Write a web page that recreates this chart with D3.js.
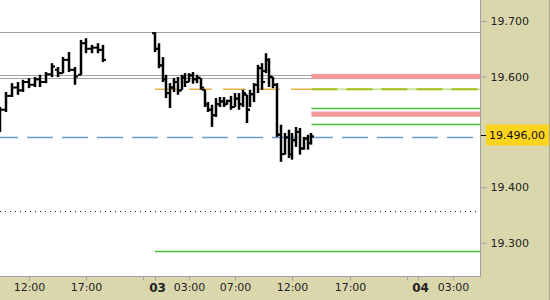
<!DOCTYPE html>
<html>
<head>
<meta charset="utf-8">
<script src="https://cdn.jsdelivr.net/npm/d3@7"></script>
<style>
  body { margin: 0; background: #dad7ad; }
  svg { display: block; font-family: "DejaVu Sans", Verdana, sans-serif; }
</style>
</head>
<body>
<svg id="chart" width="550" height="300"></svg>
<script>
"use strict";

// bars of day 02 (30 min) : time, open, high, low, close
var barsDay2 = [
  ["02 09:30", 19505, 19545, 19500, 19540],
  ["02 10:00", 19540, 19572, 19536, 19565],
  ["02 10:30", 19565, 19588, 19563, 19580],
  ["02 11:00", 19580, 19590, 19567, 19575],
  ["02 11:30", 19575, 19594, 19572, 19590],
  ["02 12:00", 19590, 19597, 19579, 19585],
  ["02 12:30", 19585, 19599, 19581, 19595],
  ["02 13:00", 19595, 19603, 19581, 19590],
  ["02 13:30", 19590, 19608, 19588, 19604],
  ["02 14:00", 19604, 19624, 19599, 19618],
  ["02 14:30", 19612, 19617, 19599, 19606],
  ["02 15:00", 19606, 19635, 19606, 19630],
  ["02 15:30", 19630, 19644, 19608, 19612],
  ["02 16:00", 19612, 19617, 19585, 19600],
  ["02 16:30", 19603, 19666, 19603, 19660],
  ["02 17:00", 19660, 19669, 19642, 19650],
  ["02 17:30", 19650, 19657, 19642, 19652],
  ["02 18:00", 19652, 19660, 19642, 19648],
  ["02 18:30", 19648, 19657, 19626, 19630]
];

// bars of day 03 (20 min)
var barsDay3 = [
  ["03 00:00", 19678, 19680, 19644, 19650],
  ["03 00:20", 19650, 19660, 19615, 19620],
  ["03 00:40", 19620, 19635, 19590, 19595],
  ["03 01:00", 19595, 19603, 19561, 19570],
  ["03 01:20", 19570, 19588, 19543, 19580],
  ["03 01:40", 19580, 19597, 19572, 19590],
  ["03 02:00", 19590, 19599, 19567, 19575],
  ["03 02:20", 19575, 19603, 19576, 19598],
  ["03 02:40", 19598, 19606, 19581, 19590],
  ["03 03:00", 19590, 19606, 19590, 19602],
  ["03 03:20", 19602, 19608, 19587, 19595],
  ["03 03:40", 19595, 19603, 19588, 19598],
  ["03 04:00", 19597, 19597, 19576, 19580],
  ["03 04:20", 19576, 19576, 19545, 19550],
  ["03 04:40", 19550, 19554, 19536, 19540],
  ["03 05:00", 19540, 19549, 19509, 19530],
  ["03 05:20", 19530, 19561, 19527, 19550],
  ["03 05:40", 19550, 19563, 19545, 19555],
  ["03 06:00", 19555, 19563, 19545, 19550],
  ["03 06:20", 19550, 19558, 19549, 19556],
  ["03 06:40", 19556, 19565, 19540, 19545],
  ["03 07:00", 19545, 19570, 19545, 19560],
  ["03 07:20", 19560, 19570, 19540, 19550],
  ["03 07:40", 19550, 19576, 19545, 19570],
  ["03 08:00", 19567, 19567, 19516, 19540],
  ["03 08:20", 19540, 19576, 19545, 19568],
  ["03 08:40", 19568, 19588, 19554, 19585],
  ["03 09:00", 19585, 19621, 19570, 19615],
  ["03 09:20", 19615, 19624, 19576, 19590],
  ["03 09:40", 19610, 19642, 19606, 19630],
  ["03 10:00", 19630, 19633, 19581, 19600],
  ["03 10:20", 19599, 19599, 19579, 19585],
  ["03 10:40", 19585, 19588, 19491, 19495],
  ["03 11:00", 19495, 19513, 19446, 19460],
  ["03 11:20", 19460, 19498, 19459, 19490],
  ["03 11:40", 19490, 19504, 19453, 19460],
  ["03 12:00", 19460, 19498, 19450, 19485],
  ["03 12:20", 19485, 19509, 19473, 19500],
  ["03 12:40", 19500, 19507, 19459, 19470],
  ["03 13:00", 19470, 19491, 19468, 19488],
  ["03 13:20", 19488, 19495, 19468, 19480],
  ["03 13:40", 19480, 19498, 19477, 19492]
];

// horizontal levels
var grayLevels = [19680, 19603, 19597];
var redZones = [19600, 19532];
var greenLevels = [19543, 19514];
var pivotLevel = 19577;
var blueLevel = 19491;
var dottedLevel = 19357;
var lowGreenLevel = 19285;
var lastPrice = 19496;

// axis ticks
var yTicks = [19300, 19400, 19600, 19700];
var xTickTimes = ["02 12:00", "02 17:00", "02 22:00", "03 00:00", "03 03:00",
  "03 07:00", "03 12:00", "03 17:00", "03 22:00", "04 00:00", "04 03:00"];
var xTickLabels = ["12:00", "17:00", "", "03", "03:00",
  "07:00", "12:00", "17:00", "", "04", "03:00"];

// plot size
var plotW = 480, plotH = 276;

// trading hours: each day is 23h wide (1 hour break is skipped)
function tradeHour(s) {
  var day = +s.slice(0, 2);
  var hh = +s.slice(3, 5), mm = +s.slice(6, 8);
  return (day - 2) * 23 + hh + mm / 60;
}

// price format 19.700 / 19.496,00
function fmtPrice(v, dec) {
  var s = d3.format("," + (dec ? ".2f" : ".0f"))(v);
  return s.replace(".", "#").replace(",", ".").replace("#", ",");
}

var svg = d3.select("#chart");

var x = d3.scaleLinear().domain([9.467, 51.39]).range([0, plotW]);
var y = d3.scaleLinear().domain([19240, 19738]).range([plotH, 0]);

// plot background
svg.append("rect").attr("x", 0).attr("y", 0)
  .attr("width", plotW).attr("height", plotH).attr("fill", "#ffffff");

var g = svg.append("g");

function hy(v) { return Math.round(y(v)) + 0.5; }

// gray levels
g.selectAll(".gray").data(grayLevels).enter().append("line")
  .attr("x1", 0).attr("x2", plotW)
  .attr("y1", hy).attr("y2", hy)
  .attr("stroke", "#a4a4a4").attr("stroke-width", 1.2);

var lastT = tradeHour(barsDay3[barsDay3.length - 1][0]);
var dayStart = tradeHour("03 00:00");

// pivot: orange dashed during the day, then green/yellow
g.append("line")
  .attr("x1", x(dayStart)).attr("x2", x(lastT))
  .attr("y1", y(pivotLevel)).attr("y2", y(pivotLevel))
  .attr("stroke", "#eab04c").attr("stroke-width", 1.6)
  .attr("stroke-dasharray", "23,11");
g.append("line")
  .attr("x1", x(lastT)).attr("x2", plotW)
  .attr("y1", y(pivotLevel)).attr("y2", y(pivotLevel))
  .attr("stroke", "#c8e8a0").attr("stroke-width", 2.2);
g.append("line")
  .attr("x1", x(lastT)).attr("x2", plotW)
  .attr("y1", y(pivotLevel)).attr("y2", y(pivotLevel))
  .attr("stroke", "#a8c020").attr("stroke-width", 2.2)
  .attr("stroke-dasharray", "26,9");

// red zones
g.selectAll(".red").data(redZones).enter().append("rect")
  .attr("x", x(lastT)).attr("width", plotW - x(lastT))
  .attr("y", function(d) { return y(d) - 2.6; })
  .attr("height", 5.2)
  .attr("fill", "#f39b9b");

// green levels
g.selectAll(".green").data(greenLevels).enter().append("line")
  .attr("x1", x(lastT)).attr("x2", plotW)
  .attr("y1", hy).attr("y2", hy)
  .attr("stroke", "#4cbb3c").attr("stroke-width", 1.3);

g.append("line")
  .attr("x1", x(dayStart)).attr("x2", plotW)
  .attr("y1", hy(lowGreenLevel)).attr("y2", hy(lowGreenLevel))
  .attr("stroke", "#4cbb3c").attr("stroke-width", 1.3);

// blue dashed
g.append("line")
  .attr("x1", 0).attr("x2", plotW)
  .attr("y1", hy(blueLevel)).attr("y2", hy(blueLevel))
  .attr("stroke", "#6a9ad2").attr("stroke-width", 1.4)
  .attr("stroke-dasharray", "26,9").attr("stroke-dashoffset", 8);

// dotted
g.append("line")
  .attr("x1", 0).attr("x2", plotW)
  .attr("y1", hy(dottedLevel)).attr("y2", hy(dottedLevel))
  .attr("stroke", "#222").attr("stroke-width", 1)
  .attr("stroke-dasharray", "1,4");

// ohlc bars
var bars = barsDay2.concat(barsDay3);
function bx(d) { return Math.round(x(tradeHour(d[0]))); }
var bg = g.selectAll(".bar").data(bars).enter().append("g");
bg.append("line")
  .attr("x1", bx).attr("x2", bx)
  .attr("y1", function(d) { return y(d[2]); })
  .attr("y2", function(d) { return y(d[3]); })
  .attr("stroke", "#000").attr("stroke-width", 2.5);
bg.append("line")
  .attr("x1", function(d) { return bx(d) - 3; })
  .attr("x2", bx)
  .attr("y1", function(d) { return y(d[1]); })
  .attr("y2", function(d) { return y(d[1]); })
  .attr("stroke", "#000").attr("stroke-width", 2);
bg.append("line")
  .attr("x1", bx)
  .attr("x2", function(d) { return bx(d) + 3; })
  .attr("y1", function(d) { return y(d[4]); })
  .attr("y2", function(d) { return y(d[4]); })
  .attr("stroke", "#000").attr("stroke-width", 2);

// plot border (right + bottom)
svg.append("path")
  .attr("d", "M" + (plotW + 0.5) + ",0V" + (plotH + 0.5) + "H0")
  .attr("fill", "none").attr("stroke", "#a0a0a0");

// y axis
var yAxis = d3.axisRight(y).tickValues(yTicks).tickSize(6).tickPadding(4)
  .tickFormat(function(d) { return fmtPrice(d, false); });
var ya = svg.append("g").attr("transform", "translate(" + (plotW + 0.5) + ",0)")
  .call(yAxis);
ya.select(".domain").remove();
ya.selectAll(".tick line").attr("stroke", "#a0a0a0");
ya.selectAll(".tick text").attr("fill", "#222").attr("font-size", 11)
  .attr("font-family", "DejaVu Sans, Verdana, sans-serif");

// last price box
var ly = Math.round(y(lastPrice)) + 1;
svg.append("rect").attr("x", 486).attr("y", ly - 10.5)
  .attr("width", 64).attr("height", 21).attr("fill", "#fdd41c");
svg.append("line").attr("x1", plotW + 1).attr("x2", 486)
  .attr("y1", ly + 0.5).attr("y2", ly + 0.5).attr("stroke", "#000");
svg.append("text").attr("x", 489).attr("y", ly).attr("dy", "0.35em")
  .attr("font-size", 11).attr("fill", "#111")
  .text(fmtPrice(lastPrice, true));

// x axis
var xa = svg.append("g").attr("transform", "translate(0," + (plotH + 0.5) + ")");
var xt = xa.selectAll(".xt").data(xTickTimes).enter().append("g")
  .attr("transform", function(d) { return "translate(" + (Math.round(x(tradeHour(d))) + 0.5) + ",0)"; });
xt.append("line").attr("y1", 0).attr("y2", 4).attr("stroke", "#a0a0a0");
xt.append("text")
  .attr("y", 11).attr("dy", "0.35em")
  .attr("text-anchor", "middle")
  .attr("dx", function(d, i) { return xTickLabels[i].length === 2 ? 2 : 0; })
  .attr("font-size", function(d, i) { return xTickLabels[i].length === 2 ? 12 : 11; })
  .attr("font-weight", function(d, i) { return xTickLabels[i].length === 2 ? "bold" : "normal"; })
  .attr("fill", "#222")
  .text(function(d, i) { return xTickLabels[i]; });

// right edge
svg.append("line").attr("x1", 549.5).attr("x2", 549.5).attr("y1", 0).attr("y2", 300)
  .attr("stroke", "#aaa78a");
</script>
</body>
</html>
